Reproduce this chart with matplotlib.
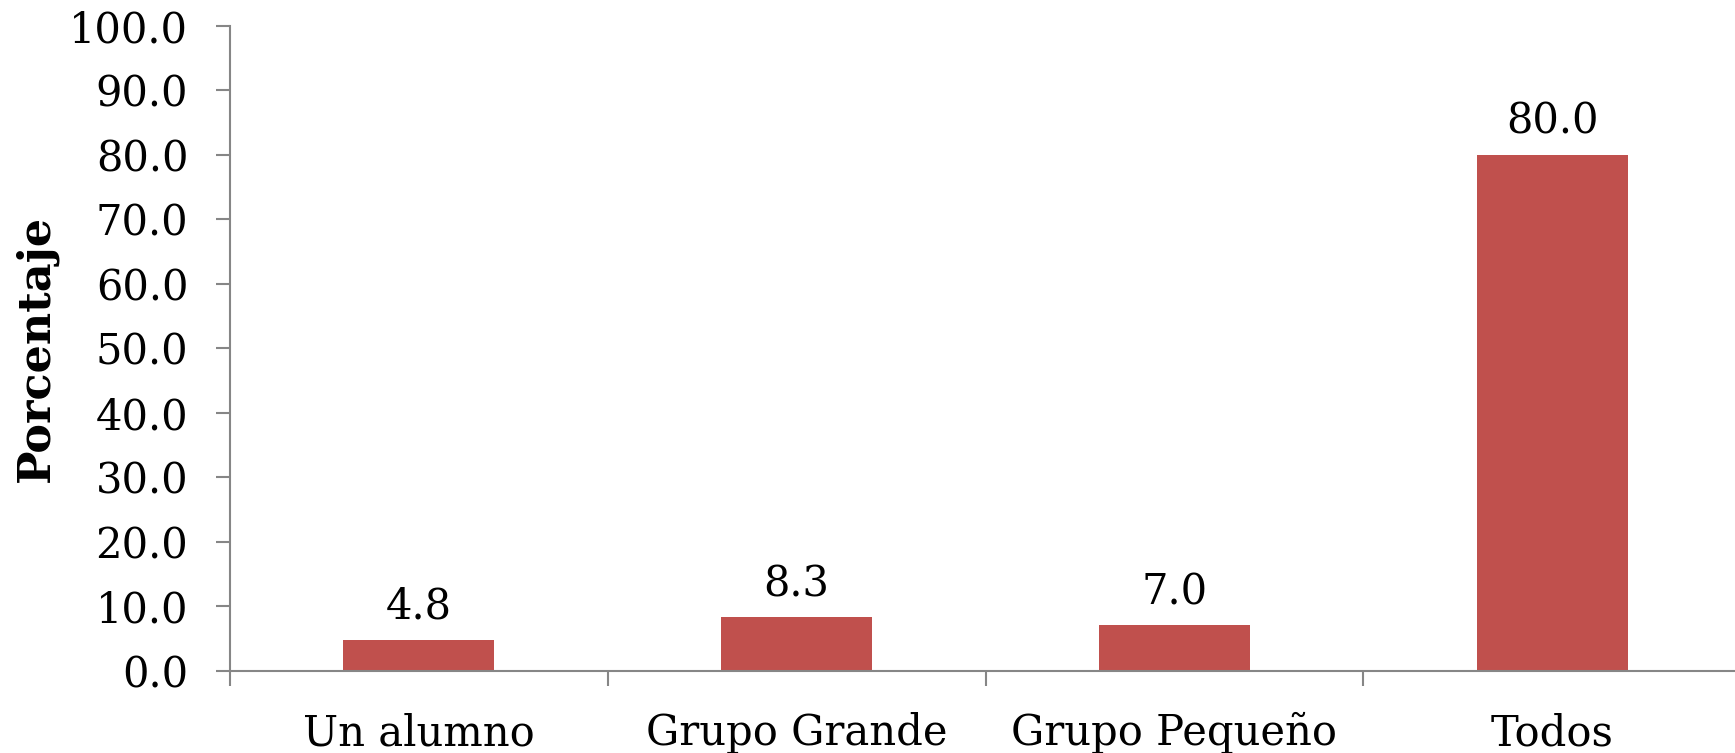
import matplotlib
matplotlib.use("Agg")
import matplotlib.pyplot as plt
import numpy as np

# data
categorias = ["Un alumno", "Grupo Grande", "Grupo Pequeño", "Todos"]
porcentajes = [4.8, 8.3, 7.0, 80.0]
yticks = [0, 10, 20, 30, 40, 50, 60, 70, 80, 90, 100]

plt.rcParams['font.family'] = ['DejaVu Serif']
gris = '#868686'
rojo = '#C0504D'

fig = plt.figure(figsize=(17.35, 7.53), dpi=100)
ax = fig.add_axes([230/1735, 0.1094, 1511/1735, 0.8567])

x = np.arange(len(categorias))
ax.bar(x, porcentajes, width=0.4, color=rojo, zorder=2)

for xi, v in zip(x, porcentajes):
    ax.annotate(f"{v:.1f}", (xi, v), xytext=(0, 15), textcoords='offset points',
                ha='center', va='baseline', fontsize=30)

ax.set_xlim(-0.5, 3.5)
ax.set_ylim(0, 100)
ax.set_yticks(yticks)
ax.set_yticklabels([f"{t:.1f}" for t in yticks], fontsize=30)
ax.tick_params(axis='y', length=10, width=1.5, color=gris, pad=20)

# category labels centred, ticks on boundaries
ax.set_xticks(x)
ax.set_xticklabels(categorias, fontsize=30)
ax.tick_params(axis='x', which='major', length=0, pad=30)
ax.set_xticks(np.arange(-0.5, 4.0, 1.0), minor=True)
ax.tick_params(axis='x', which='minor', length=11, width=1.5, color=gris)

for s in ['top', 'right']:
    ax.spines[s].set_visible(False)
for s in ['left', 'bottom']:
    ax.spines[s].set_color(gris)
    ax.spines[s].set_linewidth(1.5)
ax.spines['bottom'].set_zorder(3)

fig.text(36/1735, 1 - 348/753, "Porcentaje", rotation=90, ha='center', va='center',
         fontsize=32, fontweight='bold')

fig.savefig("out.png", dpi=100)
